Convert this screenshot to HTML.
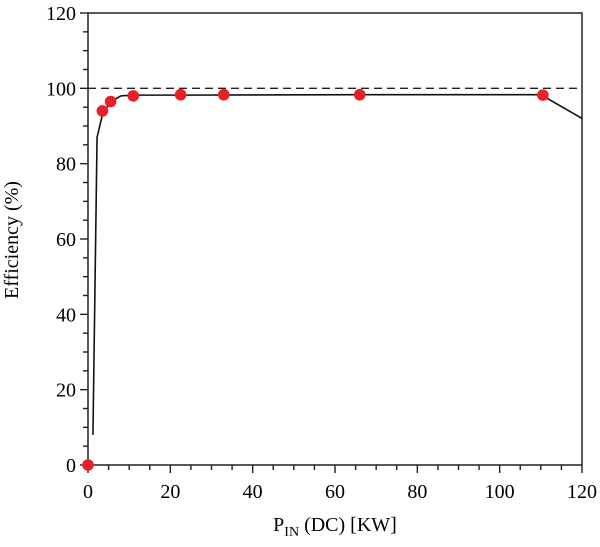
<!DOCTYPE html>
<html><head><meta charset="utf-8"><style>body{margin:0;background:#fff}svg{display:block;font-family:"Liberation Serif",serif}</style></head><body>
<svg width="600" height="547" viewBox="0 0 600 547">
<g id="axes"></g><g id="marks"></g>
<text x="18" y="240" font-size="20" text-anchor="middle" transform="rotate(-90 18 240)">Efficiency (%)</text>
<text x="335" y="531" font-size="20" text-anchor="middle">P<tspan font-size="14" dy="5">IN</tspan><tspan dy="-5"> (DC) [KW]</tspan></text>
</svg>
<script>
const xTicks=[0,20,40,60,80,100,120];
const yTicks=[0,20,40,60,80,100,120];
const curveX=[1.2,2.2,3.5,5.5,8,11,22.5,66,110,120];
const curveY=[8,87,93,96.5,98,98.2,98.2,98.3,98.3,92];
const ptX=[0,3.5,5.5,11,22.5,33,66,110.5];
const ptY=[0,94,96.5,98,98.3,98.3,98.3,98.2];
const refY=100;
const NS='http://www.w3.org/2000/svg';
const X=v=>88+v*(582-88)/120, Y=v=>465-v*(465-13)/120;
function mk(t,a,p){const e=document.createElementNS(NS,t);for(const k in a)e.setAttribute(k,a[k]);p.appendChild(e);return e;}
const ax=document.getElementById('axes'),mg=document.getElementById('marks');
const fr=mk('rect',{x:X(0),y:Y(120),width:X(120)-X(0),height:Y(0)-Y(120),fill:'none',stroke:'#222','stroke-width':1.5},ax);


for(let v=0;v<=120;v+=5){const maj=v%20===0;
 mk('line',{x1:X(v),x2:X(v),y1:Y(0),y2:Y(0)+(maj?8:5),stroke:'#222','stroke-width':1.4},ax);
 mk('line',{x1:X(0),x2:X(0)-(maj?8:5),y1:Y(v),y2:Y(v),stroke:'#222','stroke-width':1.4},ax);}
xTicks.forEach(v=>{const t=mk('text',{x:X(v),y:498,'font-size':20,'text-anchor':'middle'},ax);t.textContent=v;

});
yTicks.forEach(v=>{const t=mk('text',{x:X(0)-12,y:Y(v)+7,'font-size':20,'text-anchor':'end'},ax);t.textContent=v;

});
const ref=mk('line',{x1:X(0),x2:X(120),y1:Y(refY),y2:Y(refY),stroke:'#222','stroke-width':1.4,'stroke-dasharray':'8,5'},mg);


const ln=mk('polyline',{points:curveX.map((x,i)=>X(x)+','+Y(curveY[i])).join(' '),fill:'none',stroke:'#111','stroke-width':1.6},mg);


ptX.forEach((x,i)=>{const c=mk('circle',{cx:X(x),cy:Y(ptY[i]),r:5.8,fill:'#e8202a'},mg);

});
</script>
</body></html>
